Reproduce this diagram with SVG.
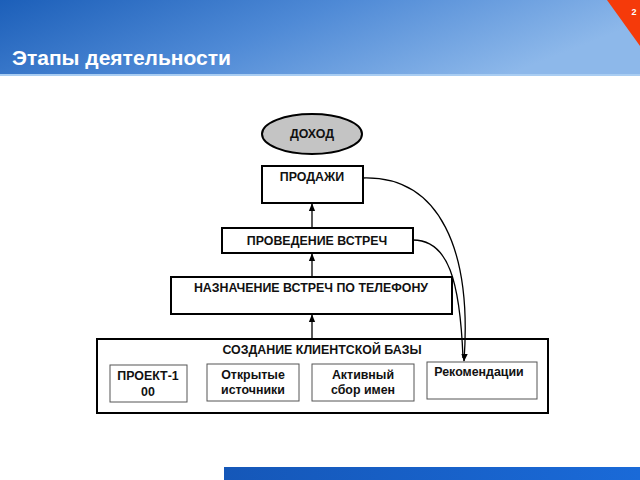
<svg xmlns="http://www.w3.org/2000/svg" width="640" height="480" viewBox="0 0 640 480">
<defs>
<linearGradient id="hdr" x1="0" y1="0" x2="1" y2="0.3">
<stop offset="0" stop-color="#1c5fb9"/>
<stop offset="0.5" stop-color="#4f8ad6"/>
<stop offset="1" stop-color="#8db8ea"/>
</linearGradient>
<linearGradient id="bar" x1="0" y1="0" x2="1" y2="0">
<stop offset="0" stop-color="#1557b8"/>
<stop offset="1" stop-color="#1a6ad8"/>
</linearGradient>
<marker id="ah" viewBox="0 0 10 10" refX="9" refY="5" markerWidth="8" markerHeight="8" orient="auto-start-reverse" markerUnits="userSpaceOnUse">
<path d="M0,1 L10,5 L0,9 z" fill="#000"/>
</marker>
</defs>
<style>
.box{fill:#fff;stroke:#000;stroke-width:2}
.sub{fill:#fff;stroke:#555;stroke-width:1}
.t{font-family:"Liberation Sans",Arial,sans-serif;font-size:12.4px;font-weight:bold;fill:#111;text-anchor:middle}
.c{fill:none;stroke:#000;stroke-width:1.3}
</style>
<rect x="0" y="0" width="640" height="76" fill="url(#hdr)"/>
<rect x="0" y="74" width="640" height="2" fill="#a9cdf2"/>
<polygon points="607,0 640,0 640,46" fill="#f53a0a"/>
<text x="634" y="15" font-family="Liberation Sans,Arial,sans-serif" font-size="9" font-weight="bold" fill="#fff" text-anchor="middle">2</text>
<text x="12" y="65" font-family="Liberation Sans,Arial,sans-serif" font-size="21" font-weight="bold" fill="#fff">Этапы деятельности</text>
<rect x="224" y="467" width="416" height="13" fill="url(#bar)"/>

<g id="dohod">
<ellipse cx="312" cy="134" rx="50" ry="20" fill="#c4c4c4" stroke="#000" stroke-width="2"/>
<text class="t" x="312" y="138">ДОХОД</text>
</g>
<g id="prodazhi">
<rect class="box" x="262" y="166" width="101" height="37"/>
<text class="t" x="312" y="181">ПРОДАЖИ</text>
</g>
<g id="vstrechi">
<rect class="box" x="222" y="228" width="191" height="25"/>
<text class="t" x="317" y="245">ПРОВЕДЕНИЕ ВСТРЕЧ</text>
</g>
<g id="naznachenie">
<rect class="box" x="171" y="277" width="281" height="37"/>
<text class="t" x="311" y="292">НАЗНАЧЕНИЕ ВСТРЕЧ ПО ТЕЛЕФОНУ</text>
</g>
<g id="baza">
<rect class="box" x="97" y="339" width="451" height="74"/>
<text class="t" x="322" y="354">СОЗДАНИЕ КЛИЕНТСКОЙ БАЗЫ</text>
</g>
<g id="proekt">
<rect class="sub" x="110" y="365" width="77" height="37"/>
<text class="t" x="148" y="380">ПРОЕКТ-1</text>
<text class="t" x="148" y="396">00</text>
</g>
<g id="otkrytye">
<rect class="sub" x="207" y="364" width="92" height="37"/>
<text class="t" x="253" y="379">Открытые</text>
<text class="t" x="253" y="394">источники</text>
</g>
<g id="aktivny">
<rect class="sub" x="312" y="364" width="102" height="37"/>
<text class="t" x="363" y="379">Активный</text>
<text class="t" x="363" y="394">сбор имен</text>
</g>
<g id="rekomendacii">
<rect class="sub" x="427" y="362" width="110" height="37"/>
<text class="t" x="479" y="376">Рекомендации</text>
</g>

<g id="connectors">
<line class="c" x1="312" y1="228" x2="312" y2="204" marker-end="url(#ah)"/>
<line class="c" x1="312" y1="277" x2="312" y2="254" marker-end="url(#ah)"/>
<line class="c" x1="312" y1="339" x2="312" y2="315" marker-end="url(#ah)"/>
<path class="c" d="M363,178 C440,176 472,250 464,361" marker-end="url(#ah)"/>
<path class="c" d="M413,240 C448,240 460,280 463,358"/>
</g>
</svg>
